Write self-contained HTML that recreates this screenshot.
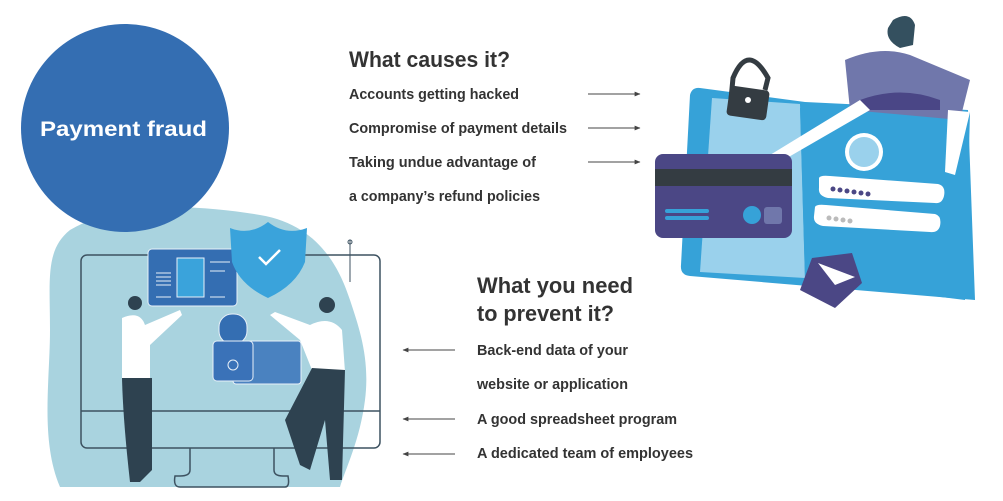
<!DOCTYPE html>
<html><head><meta charset="utf-8"><style>
html,body{margin:0;padding:0;background:#fff;}
svg{display:block;}
text{font-family:"Liberation Sans",sans-serif;font-weight:bold;fill:#333;}
</style></head><body>
<svg width="1003" height="501" viewBox="0 0 1003 501" xmlns="http://www.w3.org/2000/svg">
<defs>
<marker id="ar" viewBox="0 0 10 10" refX="9" refY="5" markerWidth="6" markerHeight="6" orient="auto-start-reverse"><path d="M0,1 L10,5 L0,9 z" fill="#444"/></marker>
</defs>
<path d="M70,230 C120,200 200,205 260,215 C320,225 340,270 350,300 C360,330 370,360 365,400 C360,440 345,470 340,487 L60,487 C40,440 50,380 50,330 C50,280 45,250 70,230 Z" fill="#a9d3df"/>
<rect x="81" y="255" width="299" height="193" rx="6" fill="none" stroke="#3d5261" stroke-width="1.5"/>
<line x1="81" y1="411" x2="380" y2="411" stroke="#3d5261" stroke-width="1.5"/>
<path d="M190,448 L190,470 Q190,476 180,476 L175,476 Q173,487 180,487 L285,487 Q290,487 288,476 L283,476 Q274,476 274,470 L274,448" fill="none" stroke="#3d5261" stroke-width="1.5"/>
<rect x="148" y="249" width="89" height="57" rx="4" fill="#346eb2" stroke="#e8f0f8" stroke-width="1"/>
<rect x="177" y="258" width="27" height="39" fill="#3aa3db" stroke="#e8f0f8"/>
<g stroke="#e8f0f8"><line x1="156" y1="273" x2="171" y2="273"/><line x1="156" y1="277" x2="171" y2="277"/><line x1="156" y1="281" x2="171" y2="281"/><line x1="156" y1="285" x2="171" y2="285"/><line x1="210" y1="262" x2="230" y2="262"/><line x1="210" y1="271" x2="225" y2="271"/><line x1="210" y1="297" x2="225" y2="297"/><line x1="156" y1="297" x2="171" y2="297"/></g>
<path d="M268,222 Q250,236 230,228 L232,262 Q240,285 268,298 Q296,285 305,262 L307,228 Q286,236 268,222 Z" fill="#3aa3db"/>
<path d="M259,257 L266,264 L280,250" fill="none" stroke="#fff" stroke-width="2.5"/>
<rect x="219" y="314" width="28" height="30" rx="13" fill="#346eb2" stroke="#e8f0f8"/>
<rect x="233" y="341" width="68" height="43" rx="3" fill="#4a82c0" stroke="#e8f0f8"/>
<rect x="213" y="341" width="40" height="40" rx="4" fill="#3a72b8" stroke="#e8f0f8"/>
<circle cx="233" cy="365" r="5" fill="none" stroke="#e8f0f8"/>
<path d="M350,240 L350,282" stroke="#3d5261"/><circle cx="350" cy="242" r="2" fill="none" stroke="#3d5261"/>
<circle cx="135" cy="303" r="7" fill="#2e4250"/>
<path d="M122,318 Q140,310 145,325 L180,310 L182,315 L150,345 L150,380 L122,380 Z" fill="#fff"/>
<path d="M122,378 L152,378 L152,470 L140,482 L130,482 Q123,420 122,378 Z" fill="#2e4250"/>
<circle cx="327" cy="305" r="8" fill="#2e4250"/>
<path d="M310,325 Q330,315 342,330 L345,372 L312,370 L300,340 L270,315 L275,312 Z" fill="#fff"/>
<path d="M312,368 L345,370 L342,480 L330,480 L325,420 L310,470 L300,465 L285,420 Z" fill="#2e4250"/>
<circle cx="125" cy="128" r="104" fill="#346eb2"/>
<text x="40" y="136" style="fill:#fff;font-size:21px" textLength="167" lengthAdjust="spacingAndGlyphs">Payment fraud</text>
<text x="349" y="67" style="font-size:22px" textLength="161" lengthAdjust="spacingAndGlyphs">What causes it?</text>
<text x="349" y="99" style="font-size:15px" textLength="170" lengthAdjust="spacingAndGlyphs">Accounts getting hacked</text>
<text x="349" y="133" style="font-size:15px" textLength="218" lengthAdjust="spacingAndGlyphs">Compromise of payment details</text>
<text x="349" y="167" style="font-size:15px" textLength="187" lengthAdjust="spacingAndGlyphs">Taking undue advantage of</text>
<text x="349" y="201" style="font-size:15px" textLength="191" lengthAdjust="spacingAndGlyphs">a company’s refund policies</text>
<g stroke="#444" stroke-width="1" marker-end="url(#ar)">
<line x1="588" y1="94" x2="640" y2="94"/><line x1="588" y1="128" x2="640" y2="128"/><line x1="588" y1="162" x2="640" y2="162"/>
<line x1="455" y1="350" x2="403" y2="350"/><line x1="455" y1="419" x2="403" y2="419"/><line x1="455" y1="454" x2="403" y2="454"/>
</g>
<text x="477" y="293" style="font-size:22px" textLength="156" lengthAdjust="spacingAndGlyphs">What you need</text>
<text x="477" y="321" style="font-size:22px" textLength="137" lengthAdjust="spacingAndGlyphs">to prevent it?</text>
<text x="477" y="355" style="font-size:15px" textLength="151" lengthAdjust="spacingAndGlyphs">Back-end data of your</text>
<text x="477" y="389" style="font-size:15px" textLength="151" lengthAdjust="spacingAndGlyphs">website or application</text>
<text x="477" y="424" style="font-size:15px" textLength="200" lengthAdjust="spacingAndGlyphs">A good spreadsheet program</text>
<text x="477" y="458" style="font-size:15px" textLength="216" lengthAdjust="spacingAndGlyphs">A dedicated team of employees</text>
<path d="M700,88 L805,102 L968,110 L975,300 L690,276 Q680,275 681,265 L690,95 Q692,87 700,88 Z" fill="#36a2d8"/>
<path d="M712,98 L800,104 L805,278 L700,272 Z" fill="#9ad1ec"/>
<path d="M800,108 L970,112 L965,300 L805,280 Z" fill="#36a2d8"/>
<path d="M845,60 Q880,45 910,55 L970,80 L960,120 L850,110 Z" fill="#7077ab"/>
<path d="M860,100 Q900,85 940,100 L940,110 L860,110 Z" fill="#4a4686"/>
<path d="M893,20 Q910,10 915,25 L913,45 L900,48 Q885,40 888,28 Z" fill="#34505f"/>
<path d="M770,155 L860,100 L870,110 L780,162 Z" fill="#fff"/>
<path d="M948,110 L970,112 L955,175 L945,172 Z" fill="#fff"/>
<rect x="655" y="154" width="137" height="84" rx="8" fill="#4b4785"/>
<rect x="655" y="169" width="137" height="17" fill="#343c42"/>
<rect x="665" y="209" width="44" height="4" rx="2" fill="#36a2d8"/><rect x="665" y="216" width="44" height="4" rx="2" fill="#36a2d8"/>
<circle cx="752" cy="215" r="9" fill="#36a2d8"/><rect x="764" y="207" width="18" height="17" rx="3" fill="#7077ab"/>
<circle cx="864" cy="152" r="19" fill="#fff"/><circle cx="864" cy="152" r="15" fill="#9ad1ec"/>
<path d="M819,178 Q820,175 830,176 L938,184 Q946,186 944,196 Q942,204 935,203 L828,198 Q818,196 819,188 Z" fill="#fff"/>
<path d="M815,207 Q816,204 826,205 L935,214 Q942,216 940,226 Q938,233 930,232 L823,226 Q813,224 814,216 Z" fill="#fff"/>
<g fill="#4b4785"><circle cx="833" cy="189" r="2.5"/><circle cx="840" cy="190" r="2.5"/><circle cx="847" cy="191" r="2.5"/><circle cx="854" cy="192" r="2.5"/><circle cx="861" cy="193" r="2.5"/><circle cx="868" cy="194" r="2.5"/></g>
<g fill="#bbb"><circle cx="829" cy="218" r="2.5"/><circle cx="836" cy="219" r="2.5"/><circle cx="843" cy="220" r="2.5"/><circle cx="850" cy="221" r="2.5"/></g>
<path d="M812,258 L852,253 L862,283 L835,308 L800,290 Z" fill="#4b4785"/>
<path d="M818,263 L855,277 L835,285 Z" fill="#fff"/>
<path d="M730,110 L733,78 Q748,42 768,78 L765,90" fill="none" stroke="#343c42" stroke-width="5"/>
<rect x="728" y="88" width="40" height="30" rx="4" transform="rotate(8 748 103)" fill="#343c42"/>
<circle cx="748" cy="100" r="3" fill="#fff"/>
</svg>
</body></html>
